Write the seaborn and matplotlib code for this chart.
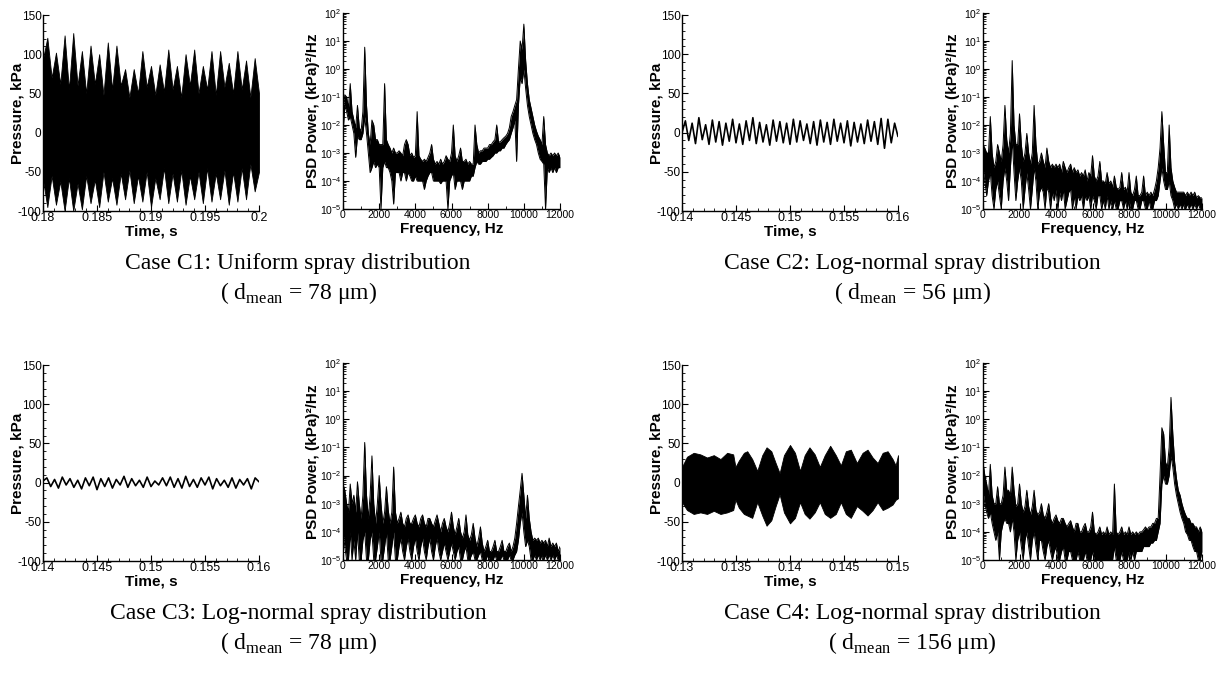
import matplotlib
matplotlib.use("Agg")
import matplotlib.pyplot as plt
import matplotlib.ticker as mticker
import numpy as np
import pandas as pd
import seaborn as sns

# ---- pressure traces (kPa) ----
# C1 and C4 are dense bands: upper / lower envelopes
c1_upper = [94, 121, 70, 102, 62, 124, 55, 127, 60, 104, 50, 111, 62, 100, 48, 115, 55,
            111, 60, 81, 45, 81, 50, 104, 58, 85, 48, 87, 52, 106, 55, 85, 45, 100, 60,
            106, 50, 85, 55, 104, 48, 104, 58, 89, 50, 104, 55, 92, 45, 95, 50]
c1_lower = [-60, -95, -55, -92, -62, -100, -58, -100, -65, -98, -55, -90, -60, -95, -50,
            -88, -58, -92, -52, -85, -48, -90, -55, -88, -50, -95, -58, -85, -45, -90, -52,
            -88, -48, -92, -55, -85, -50, -90, -45, -88, -52, -85, -48, -92, -50, -88, -45,
            -85, -40, -75, -50]

c2_pressure = [0, 15, -10, 12, -14, 19, -9, 10, -15, 16, -12, 14, -16, 12, -11, 17, -13,
               11, -15, 15, -10, 19, -14, 13, -12, 10, -16, 16, -11, 14, -13, 12, -15, 17,
               -12, 15, -10, 11, -14, 14, -16, 16, -12, 13, -15, 17, -11, 12, -13, 15, -17,
               13, -12, 11, -14, 16, -11, 14, -15, 18, -20, 17, -13, 12, -5]

c3_pressure = [2, 6, -5, 4, -7, 7, -3, 5, -6, 3, -8, 6, -4, 7, -9, 5, -5, 6, -7, 4, -3, 8,
               -6, 5, -4, 3, -6, 7, -5, 2, -3, 6, -4, 7, -6, 5, -7, 8, -5, 4, -6, 6, -3, 7,
               -8, 5, -4, 3, -6, 6, -7, 4, -3, 5, -8, 6, 1]

c4_time = [0.13000, 0.13046, 0.13108, 0.13170, 0.13232, 0.13294, 0.13356, 0.13418,
           0.13474, 0.13495, 0.13526, 0.13573, 0.13604, 0.13650, 0.13697, 0.13743,
           0.13783, 0.13827, 0.13867, 0.13904, 0.13944, 0.14000, 0.14046, 0.14093,
           0.14136, 0.14180, 0.14229, 0.14276, 0.14322, 0.14372, 0.14424, 0.14471,
           0.14517, 0.14563, 0.14619, 0.14672, 0.14718, 0.14765, 0.14811, 0.14858,
           0.14904, 0.14950, 0.14978, 0.15000]
c4_upper = [20, 33, 38, 36, 32, 35, 30, 38, 36, 20, 28, 38, 40, 30, 15, 35, 45, 40, 25, 12,
            35, 48, 38, 15, 35, 45, 36, 20, 35, 47, 35, 22, 40, 42, 25, 38, 42, 32, 25, 38,
            40, 30, 22, 35]
c4_lower = [-25, -35, -40, -38, -40, -36, -40, -38, -35, -22, -32, -40, -42, -45, -25, -42,
            -55, -48, -30, -15, -38, -52, -45, -25, -40, -46, -38, -25, -40, -45, -40, -25,
            -40, -45, -30, -36, -42, -35, -25, -35, -32, -28, -22, -20]

# ---- PSD, (kPa)^2/Hz: max and min of the trace in each 100 Hz bin, 0..12000 Hz ----
psd_freq = np.arange(0, 12001, 100)

c1_psd_max = [3e-2, 1.2e-1, 1e-1, 4e-2, 3e-1, 3e-2, 1.5e-2, 8e-3, 5e-2, 8e-3,
              6e-3, 3e-2, 6e0, 5e-2, 5e-3, 2e-3, 1.5e-2, 1e-2, 3e-3, 3e-3,
              2e-3, 2e-3, 2e-3, 3e-1, 3e-3, 2e-3, 1.5e-3, 1e-3, 1.5e-3, 1e-3,
              1e-3, 1.2e-3, 1e-3, 8e-4, 2e-3, 3e-3, 2e-3, 8e-4, 1e-3, 7e-4,
              8e-4, 3e-2, 8e-4, 6e-4, 5e-4, 6e-4, 5e-4, 7e-4, 1e-3, 2e-3,
              6e-4, 4e-4, 5e-4, 4e-4, 6e-4, 4e-4, 5e-4, 8e-4, 6e-4, 5e-4,
              1e-3, 1e-2, 8e-4, 5e-4, 8e-4, 1.5e-3, 5e-4, 5e-4, 6e-4, 4e-4,
              5e-4, 4e-4, 4e-4, 1e-2, 2e-3, 1e-3, 1.2e-3, 1.2e-3, 1.5e-3, 1.5e-3,
              1.5e-3, 2e-3, 2e-3, 2.5e-3, 3e-3, 1e-2, 2.5e-3, 2.5e-3, 3e-3, 3.5e-3,
              4e-3, 5e-3, 8e-3, 2e-2, 3e-2, 5e-2, 8e-2, 1e0, 1e1, 5e0,
              4e1, 2e0, 3e-1, 8e-2, 4e-2, 2e-2, 1e-2, 6e-3, 4e-3, 3e-3,
              2e-3, 2e-2, 2e-3, 1e-3, 8e-4, 1e-3, 8e-4, 1e-3, 8e-4, 1e-3,
              7e-4]
c1_psd_min = [5e-3, 5e-2, 3e-2, 1.5e-2, 2e-2, 1e-2, 5e-3, 7e-4, 4e-3, 3e-3,
              3e-3, 5e-3, 2e-2, 5e-3, 1e-3, 2e-4, 3e-4, 5e-4, 3e-4, 4e-4,
              3e-4, 1e-5, 3e-4, 5e-4, 3e-4, 3e-4, 2e-4, 1e-4, 1.5e-5, 2e-4,
              2e-4, 2e-4, 1e-4, 2e-4, 2e-4, 1e-4, 2e-4, 1.5e-4, 1e-4, 1e-4,
              1.5e-4, 1e-4, 1e-4, 1e-4, 1e-4, 5e-5, 1e-4, 1.5e-4, 2e-4, 2e-4,
              1e-4, 1e-4, 1e-4, 1e-4, 8e-5, 1e-4, 1e-4, 1e-4, 1e-5, 1e-4,
              1.5e-4, 2e-4, 5e-5, 1e-4, 1e-4, 1e-4, 5e-5, 1e-4, 1e-4, 1e-4,
              1e-4, 1.5e-4, 1.5e-4, 3e-4, 5e-4, 4e-4, 4e-4, 5e-4, 5e-4, 5e-4,
              6e-4, 6e-4, 7e-4, 8e-4, 1e-3, 1e-3, 1.2e-3, 1.2e-3, 1.5e-3, 1.5e-3,
              2e-3, 2.5e-3, 3e-3, 5e-3, 8e-3, 1.5e-2, 5e-4, 5e-2, 5e-1, 3e-1,
              1e0, 2e-1, 5e-2, 2e-2, 1e-2, 5e-3, 3e-3, 2e-3, 1e-3, 6e-4,
              5e-4, 4e-4, 1e-5, 3e-4, 2e-4, 3e-4, 2e-4, 3e-4, 2e-4, 3e-4,
              3e-4]

c2_psd_max = [2e-3, 1.5e-3, 1e-3, 1e-3, 2e-2, 1e-3, 3e-4, 5e-4, 2e-3, 1e-3,
              5e-4, 2e-3, 5e-2, 3e-3, 1e-3, 5e-3, 2e0, 1e-2, 2e-3, 2e-3,
              2.5e-2, 2e-3, 5e-4, 1e-3, 5e-3, 1e-3, 4e-4, 1e-3, 5e-2, 2e-3,
              4e-4, 5e-4, 1e-3, 5e-4, 3e-4, 1.5e-3, 5e-4, 3e-4, 4e-4, 3e-4,
              4e-4, 3e-4, 4e-4, 2e-4, 5e-4, 3e-4, 2e-4, 3e-4, 4e-4, 2e-4,
              3e-4, 2e-4, 2.5e-4, 1.5e-4, 2e-4, 1.5e-4, 2.5e-4, 1e-4, 2e-4, 1.5e-4,
              8e-4, 1.5e-4, 1e-4, 1.5e-4, 5e-4, 1e-4, 1e-4, 8e-5, 2e-4, 8e-5,
              1e-4, 6e-5, 1.5e-4, 6e-5, 5e-5, 6e-5, 2e-4, 5e-5, 6e-5, 4e-5,
              2e-4, 4e-5, 3e-5, 5e-5, 1.5e-4, 3e-5, 3e-5, 4e-5, 1.5e-4, 3e-5,
              4e-5, 3e-5, 4e-5, 3e-5, 5e-5, 1e-4, 3e-4, 1.5e-3, 3e-2, 2e-3,
              2e-4, 2e-4, 1e-2, 3e-4, 1e-4, 6e-5, 4e-5, 4e-5, 4e-5, 4e-5,
              4e-5, 3e-5, 4e-5, 3e-5, 4e-5, 3e-5, 4e-5, 2.5e-5, 3e-5, 2.5e-5,
              2.5e-5]
c2_psd_min = [3e-4, 1e-4, 3e-5, 1e-4, 2e-4, 3e-5, 1e-5, 5e-5, 1e-4, 3e-5,
              1e-5, 1e-4, 3e-4, 1e-4, 2e-5, 3e-4, 3e-3, 2e-4, 2e-5, 1e-4,
              3e-4, 1e-4, 1e-5, 5e-5, 2e-4, 5e-5, 1e-5, 5e-5, 3e-4, 1e-4,
              1e-5, 4e-5, 6e-5, 4e-5, 1e-5, 6e-5, 4e-5, 1e-5, 4e-5, 2e-5,
              5e-5, 1e-5, 4e-5, 2e-5, 5e-5, 1e-5, 2e-5, 4e-5, 5e-5, 1e-5,
              3e-5, 1e-5, 3e-5, 2e-5, 3e-5, 1e-5, 3e-5, 2e-5, 3e-5, 1e-5,
              3e-5, 2e-5, 1e-5, 3e-5, 3e-5, 1e-5, 2e-5, 1e-5, 3e-5, 1e-5,
              2e-5, 1e-5, 2e-5, 1e-5, 1e-5, 2e-5, 2e-5, 1e-5, 2e-5, 1e-5,
              2e-5, 1e-5, 1e-5, 2e-5, 2e-5, 1e-5, 1e-5, 2e-5, 2e-5, 1e-5,
              1e-5, 2e-5, 1e-5, 1e-5, 2e-5, 2e-5, 3e-5, 1e-4, 3e-4, 1e-4,
              5e-5, 5e-5, 1e-4, 3e-5, 2e-5, 1e-5, 1.5e-5, 1e-5, 1.5e-5, 1e-5,
              1.5e-5, 1e-5, 1.5e-5, 1e-5, 1.5e-5, 1e-5, 1.5e-5, 1e-5, 1.5e-5, 1e-5,
              1e-5]

c3_psd_max = [5e-3, 3e-3, 1e-3, 5e-4, 5e-3, 1e-3, 2e-3, 5e-4, 6e-3, 1e-3,
              3e-4, 2e-3, 1.5e-1, 2e-3, 3e-4, 2e-3, 5e-2, 1e-3, 2e-4, 1e-3,
              1e-2, 1e-3, 2e-4, 5e-4, 4e-3, 6e-4, 2e-4, 5e-4, 2e-2, 5e-4,
              2e-4, 3e-4, 5e-4, 2e-4, 1.5e-4, 3e-4, 4e-4, 2e-4, 2e-4, 3e-4,
              4e-4, 2e-4, 1.5e-4, 3e-4, 4e-4, 2e-4, 1.5e-4, 3e-4, 3e-4, 2e-4,
              1.5e-4, 2.5e-4, 4e-4, 2e-4, 1e-4, 2e-4, 3e-4, 1.5e-4, 1e-4, 2e-4,
              5e-4, 1.5e-4, 8e-5, 1.5e-4, 3e-4, 1e-4, 6e-5, 1e-4, 4e-4, 8e-5,
              5e-5, 8e-5, 2e-4, 6e-5, 3e-5, 6e-5, 1.5e-4, 4e-5, 2e-5, 3e-5,
              5e-5, 2e-5, 2e-5, 3e-5, 5e-5, 2e-5, 2e-5, 3e-5, 5e-5, 2e-5,
              2e-5, 3e-5, 4e-5, 2e-5, 3e-5, 6e-5, 2e-4, 8e-4, 3e-3, 1.2e-2,
              2e-3, 3e-4, 2e-3, 3e-4, 1e-4, 5e-5, 6e-5, 5e-5, 6e-5, 4e-5,
              5e-5, 4e-5, 5e-5, 3e-5, 6e-5, 3e-5, 4e-5, 3e-5, 4e-5, 2e-5,
              3e-5]
c3_psd_min = [1e-4, 3e-5, 1e-5, 1e-5, 1e-4, 1e-5, 5e-5, 1e-5, 1e-4, 1e-5,
              1e-5, 5e-5, 1e-4, 1e-5, 1e-5, 5e-5, 1e-4, 1e-5, 1e-5, 3e-5,
              1e-4, 1e-5, 1e-5, 3e-5, 1e-4, 1e-5, 1e-5, 3e-5, 1e-4, 1e-5,
              1e-5, 3e-5, 6e-5, 2e-5, 1e-5, 3e-5, 6e-5, 2e-5, 1e-5, 3e-5,
              6e-5, 2e-5, 1e-5, 3e-5, 6e-5, 2e-5, 1e-5, 3e-5, 6e-5, 2e-5,
              1e-5, 3e-5, 6e-5, 2e-5, 1e-5, 2e-5, 4e-5, 2e-5, 1e-5, 2e-5,
              4e-5, 2e-5, 1e-5, 2e-5, 3e-5, 1e-5, 1e-5, 2e-5, 3e-5, 1e-5,
              1e-5, 1.5e-5, 2e-5, 1e-5, 1e-5, 1.5e-5, 2e-5, 1e-5, 1e-5, 1e-5,
              1.5e-5, 1e-5, 1e-5, 1e-5, 1.5e-5, 1e-5, 1e-5, 1e-5, 1.5e-5, 1e-5,
              1e-5, 1e-5, 1.5e-5, 1e-5, 1e-5, 1.5e-5, 2e-5, 5e-5, 2e-4, 5e-4,
              1e-4, 3e-5, 5e-5, 3e-5, 1e-5, 1e-5, 1.5e-5, 1e-5, 1.5e-5, 1e-5,
              1.5e-5, 1e-5, 1.5e-5, 1e-5, 1.5e-5, 1e-5, 1.5e-5, 1e-5, 1.5e-5, 1e-5,
              1e-5]

c4_psd_max = [3e-2, 1e-2, 5e-3, 2e-3, 2.5e-2, 2e-3, 1e-3, 1e-3, 4e-3, 1e-3,
              1e-3, 2e-3, 2e-2, 3e-3, 3e-3, 2e-3, 2e-2, 3e-3, 8e-4, 1e-3,
              5e-3, 1e-3, 5e-4, 8e-4, 3e-3, 8e-4, 4e-4, 8e-4, 3e-3, 6e-4,
              4e-4, 5e-4, 1e-3, 4e-4, 3e-4, 5e-4, 1e-3, 3e-4, 2e-4, 3e-4,
              4e-4, 2.5e-4, 2e-4, 3e-4, 3e-4, 2e-4, 1.5e-4, 2e-4, 2.5e-4, 1.5e-4,
              1e-4, 2e-4, 2e-4, 1e-4, 1e-4, 1.5e-4, 2e-4, 1e-4, 1e-4, 1.5e-4,
              5e-4, 1e-4, 8e-5, 1e-4, 1.5e-4, 8e-5, 1e-4, 8e-5, 1.5e-4, 8e-5,
              1e-4, 8e-5, 5e-3, 1e-4, 8e-5, 1e-4, 1.5e-4, 8e-5, 1e-4, 8e-5,
              1.5e-4, 8e-5, 1e-4, 8e-5, 1e-4, 8e-5, 1e-4, 1e-4, 1.2e-4, 1.5e-4,
              1.2e-4, 1.5e-4, 1.5e-4, 2e-4, 2e-4, 3e-4, 3e-4, 1e-2, 5e-1, 3e-1,
              3e-2, 2e-2, 1e-1, 6e0, 3e-1, 3e-2, 8e-3, 3e-3, 2e-3, 1e-3,
              6e-4, 4e-4, 3e-4, 3e-4, 2e-4, 2e-4, 1.5e-4, 1.5e-4, 1e-4, 1.5e-4,
              1e-4]
c4_psd_min = [3e-3, 1e-3, 5e-4, 3e-4, 5e-4, 2e-4, 1e-4, 5e-5, 1e-4, 1e-5,
              1e-4, 2e-4, 3e-4, 2e-4, 2e-4, 1e-4, 3e-4, 1e-4, 1e-5, 5e-5,
              1e-4, 3e-5, 1e-5, 5e-5, 1e-4, 3e-5, 1e-5, 5e-5, 1e-4, 3e-5,
              1e-5, 5e-5, 5e-5, 2e-5, 1e-5, 3e-5, 5e-5, 2e-5, 1e-5, 2e-5,
              3e-5, 1e-5, 1e-5, 2e-5, 3e-5, 1e-5, 1e-5, 2e-5, 2e-5, 1e-5,
              1e-5, 1e-5, 2e-5, 1e-5, 1e-5, 1e-5, 2e-5, 1e-5, 1e-5, 1e-5,
              2e-5, 1e-5, 1e-5, 1e-5, 1e-5, 1e-5, 1e-5, 1e-5, 1e-5, 1e-5,
              1e-5, 1e-5, 3e-5, 1e-5, 1e-5, 1e-5, 2e-5, 1e-5, 1e-5, 1e-5,
              2e-5, 1e-5, 2e-5, 1e-5, 2e-5, 2e-5, 2e-5, 2e-5, 3e-5, 3e-5,
              3e-5, 3e-5, 4e-5, 4e-5, 5e-5, 5e-5, 1e-4, 2e-4, 5e-3, 1e-2,
              5e-3, 5e-3, 1e-2, 5e-2, 2e-2, 5e-3, 2e-3, 1e-3, 5e-4, 3e-4,
              2e-4, 1e-4, 8e-5, 5e-5, 5e-5, 3e-5, 2e-5, 2e-5, 1e-5, 1e-5,
              2e-5]

captions = [
    ("Case C1: Uniform spray distribution", "78"),
    ("Case C2: Log-normal spray distribution", "56"),
    ("Case C3: Log-normal spray distribution", "78"),
    ("Case C4: Log-normal spray distribution", "156"),
]

sns.set_theme(style="ticks")
plt.rcParams["font.family"] = ["Liberation Sans", "DejaVu Sans"]
plt.rcParams["axes.linewidth"] = 1.0
plt.rcParams["axes.edgecolor"] = "black"
for key in ["text.color", "axes.labelcolor", "xtick.color", "ytick.color"]:
    plt.rcParams[key] = "black"

W, H = 1216, 683
fig = plt.figure(figsize=(W / 100, H / 100), dpi=100)


def px_axes(left, top, right, bottom):
    return fig.add_axes([left / W, 1 - bottom / H, (right - left) / W, (bottom - top) / H])


def tidy(ax):
    sns.despine(ax=ax)
    ax.tick_params(which="both", direction="in", colors="black")
    ax.tick_params(which="major", length=4, width=0.8)
    ax.tick_params(which="minor", length=2, width=0.6)
    ax.set_facecolor("white")


def style_time(ax, t0, t1):
    tidy(ax)
    ax.set_xlim(t0, t1)
    ax.set_ylim(-100, 150)
    ax.xaxis.set_major_locator(mticker.MultipleLocator(0.005))
    ax.xaxis.set_minor_locator(mticker.MultipleLocator(0.001))
    ax.yaxis.set_major_locator(mticker.MultipleLocator(50))
    ax.yaxis.set_minor_locator(mticker.MultipleLocator(10))
    ax.xaxis.set_major_formatter(mticker.FuncFormatter(lambda v, p: f"{v:g}"))
    ax.yaxis.set_major_formatter(mticker.FuncFormatter(lambda v, p: f"{v:g}"))
    ax.tick_params(axis="x", labelsize=9, pad=1)
    ax.tick_params(axis="y", labelsize=8.5, pad=1)
    ax.set_xlabel("Time, s", fontsize=11, fontweight="bold", labelpad=0)
    ax.set_ylabel("Pressure, kPa", fontsize=11, fontweight="bold")
    ax.yaxis.set_label_coords(-0.085, 0.5)


def style_psd(ax):
    tidy(ax)
    ax.set_xlim(0, 12000)
    ax.set_ylim(1e-5, 1e2)
    ax.xaxis.set_major_locator(mticker.MultipleLocator(2000))
    ax.xaxis.set_minor_locator(mticker.MultipleLocator(1000))
    ax.yaxis.set_major_locator(mticker.LogLocator(base=10, numticks=12))
    ax.yaxis.set_minor_locator(mticker.LogLocator(base=10, subs=np.arange(2, 10), numticks=12))
    ax.yaxis.set_minor_formatter(mticker.NullFormatter())
    ax.tick_params(axis="x", labelsize=7.5, pad=1)
    ax.tick_params(axis="y", labelsize=7.5, pad=1)
    ax.set_xlabel("Frequency, Hz", fontsize=11, fontweight="bold", labelpad=1)
    ax.set_ylabel("PSD Power, (kPa)²/Hz", fontsize=11, fontweight="bold")
    ax.yaxis.set_label_coords(-0.105, 0.5)


def draw_psd(ax, vmax, vmin):
    ax.set_yscale("log")
    df = pd.DataFrame({"freq": psd_freq, "hi": vmax, "lo": vmin})
    ax.fill_between(df["freq"], df["lo"], df["hi"], color="black", linewidth=0)
    sns.lineplot(data=df, x="freq", y="hi", ax=ax, color="black", linewidth=0.7,
                 estimator=None)
    sns.lineplot(data=df, x="freq", y="lo", ax=ax, color="black", linewidth=0.7,
                 estimator=None)
    style_psd(ax)


def draw_band(ax, t, upper, lower, t0, t1):
    ax.fill_between(t, lower, upper, color="black", linewidth=0.6, edgecolor="black")
    style_time(ax, t0, t1)


def draw_line(ax, values, t0, t1):
    df = pd.DataFrame({"t": np.linspace(t0, t1, len(values)), "p": values})
    sns.lineplot(data=df, x="t", y="p", ax=ax, color="black", linewidth=1.2, estimator=None)
    style_time(ax, t0, t1)


# top row
ax = px_axes(43, 15, 259, 211)
draw_band(ax, np.linspace(0.18, 0.2, len(c1_upper)), c1_upper, c1_lower, 0.18, 0.2)
ax = px_axes(343, 13, 560, 209)
draw_psd(ax, c1_psd_max, c1_psd_min)
ax = px_axes(682, 15, 898, 211)
draw_line(ax, c2_pressure, 0.14, 0.16)
ax = px_axes(983, 13, 1202, 209)
draw_psd(ax, c2_psd_max, c2_psd_min)

# bottom row
ax = px_axes(43, 365, 259, 561)
draw_line(ax, c3_pressure, 0.14, 0.16)
ax = px_axes(343, 363, 560, 560)
draw_psd(ax, c3_psd_max, c3_psd_min)
ax = px_axes(682, 365, 898, 561)
draw_band(ax, c4_time, c4_upper, c4_lower, 0.13, 0.15)
ax = px_axes(983, 363, 1202, 560)
draw_psd(ax, c4_psd_max, c4_psd_min)

centers = [(298, 263), (912, 263), (298, 613), (912, 613)]
for (title, dmean), (cx, cy) in zip(captions, centers):
    fig.text(cx / W, 1 - cy / H, title, ha="center", va="center",
             fontsize=17, family="Liberation Serif")
    fig.text(cx / W, 1 - (cy + 30) / H,
             "( d$_{\\mathdefault{mean}}$ = " + dmean + " μm)",
             ha="center", va="center", fontsize=17, family="Liberation Serif")

fig.savefig("out.png", dpi=100, facecolor="white")
